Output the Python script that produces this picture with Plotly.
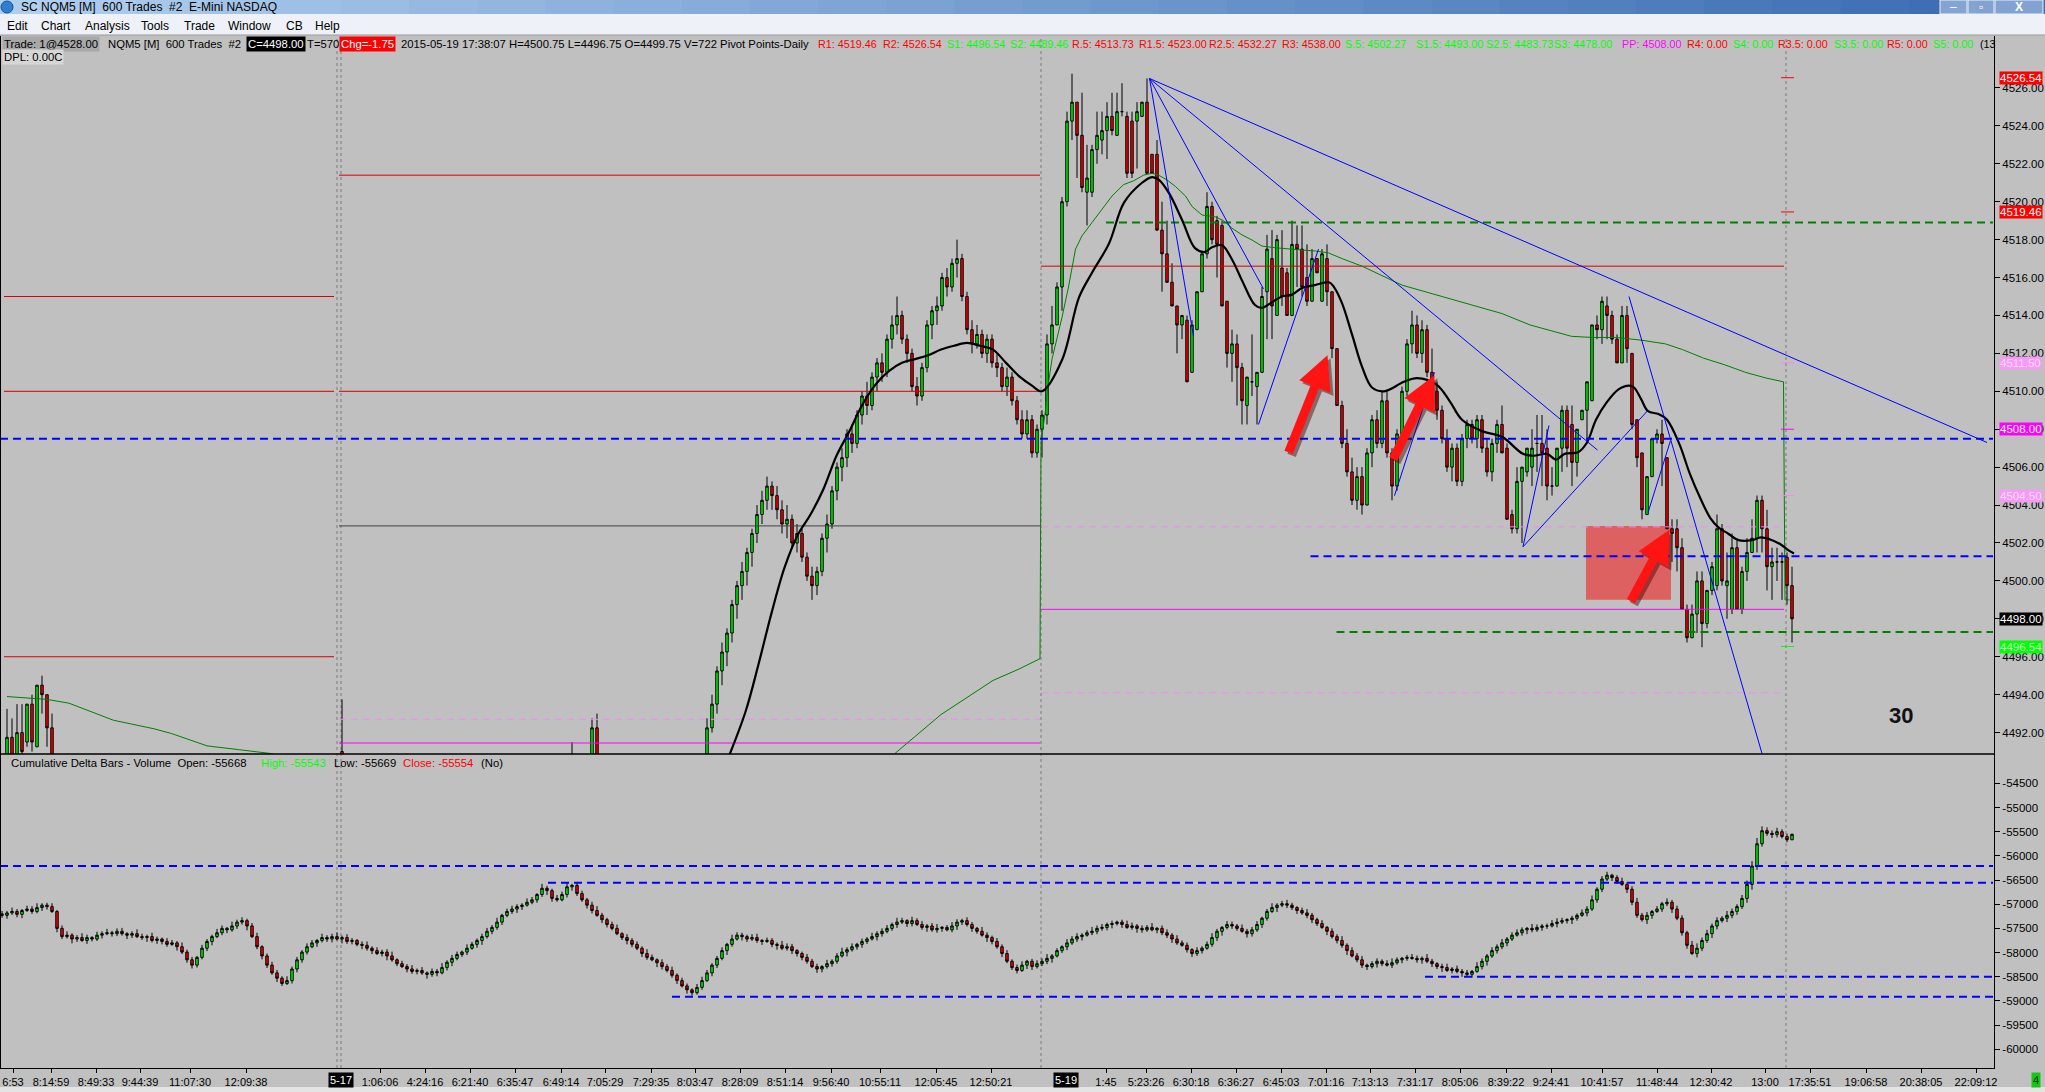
import plotly.graph_objects as go

# ---------------------------------------------------------------
# SC NQM5 [M] 600 Trades - price bars with Cumulative Delta below
# ---------------------------------------------------------------

# screen layout (pixels of the 2045 x 1092 window)
W = 2045
H = 1092
PLOT_RIGHT = 1994
PRICE_TOP = 36
PANEL_SPLIT = 754
AXIS_BOTTOM = 1068

FONT = "Liberation Sans"
INFO_SIZE = 11.3
PIVOT_SIZE = 10.8


def px_x(px):
    return px / W


def px_y(py):
    return 1 - py / H


# ---------------- price bars ----------------
# a few bars that poke into view at the left / bottom
left_bar = [1, 2, 3, 4, 5, 6, 7, 8, 9, 10, 68, 114, 118, 119]
left_open = [4490.5, 4491.75, 4490.5, 4492.0, 4491.5, 4493.5, 4491.25, 4494.5, 4494.0, 4492.25,
             4491.0, 4490.5, 4490.5, 4492.25]
left_high = [4493.25, 4492.75, 4493.5, 4493.5, 4493.5, 4494.0, 4494.5, 4495.0, 4494.0, 4493.0,
             4493.75, 4491.5, 4492.75, 4493.0]
left_low = [4490.0, 4490.0, 4490.0, 4490.75, 4491.25, 4491.0, 4491.25, 4493.0, 4491.25, 4490.0,
            4490.0, 4490.0, 4490.0, 4490.0]
left_close = [4491.75, 4490.5, 4492.0, 4491.0, 4493.5, 4491.5, 4494.5, 4494.0, 4492.25, 4490.5,
              4490.5, 4490.25, 4492.25, 4490.5]

# main run of bars, bar 141 .. 358
main_first_bar = 141
main_open = [
    4490.5, 4492.25, 4493.5, 4495.25, 4496.25, 4497.25, 4498.75, 4499.75, 4500.5, 4501.5,
    4502.5, 4503.5, 4504.25, 4505.0, 4504.5, 4503.75, 4503.0, 4503.25, 4502.0, 4502.5,
    4501.25, 4500.25, 4499.75, 4500.5, 4502.25, 4503.0, 4504.75, 4506.0, 4506.5, 4507.75,
    4507.25, 4508.75, 4509.75, 4509.25, 4510.75, 4511.5, 4511.0, 4512.75, 4513.5, 4514.0,
    4512.75, 4512.0, 4510.25, 4509.75, 4511.25, 4513.5, 4514.25, 4514.5, 4516.0, 4515.5,
    4516.75, 4517.0, 4515.0, 4513.25, 4512.5, 4513.0, 4512.0, 4512.75, 4511.5, 4511.25,
    4510.25, 4510.75, 4509.5, 4508.5, 4507.75, 4508.5, 4506.75, 4508.0, 4508.75, 4512.5,
    4513.5, 4515.5, 4520.0, 4524.25, 4525.25, 4523.5, 4520.5, 4520.5, 4522.75, 4523.25,
    4523.75, 4524.5, 4523.5, 4524.75, 4524.5, 4524.25, 4524.25, 4524.5, 4525.25, 4522.5,
    4522.5, 4518.5, 4517.25, 4515.75, 4514.5, 4513.5, 4513.75, 4511.0, 4513.25, 4515.25,
    4517.25, 4519.75, 4519.0, 4518.75, 4514.75, 4512.0, 4512.5, 4511.25, 4509.25, 4510.5,
    4510.25, 4511.0, 4515.25, 4517.0, 4514.0, 4516.5, 4516.25, 4514.0, 4517.75, 4517.5,
    4516.0, 4514.75, 4517.0, 4514.75, 4517.0, 4515.25, 4512.25, 4509.25, 4507.25, 4505.75,
    4504.25, 4505.5, 4504.0, 4506.75, 4508.5, 4507.25, 4509.5, 4506.75, 4505.0, 4507.75,
    4510.0, 4512.5, 4513.5, 4512.0, 4513.25, 4511.0, 4510.0, 4509.0, 4507.5, 4506.0,
    4507.0, 4505.25, 4507.5, 4508.25, 4507.5, 4508.5, 4507.0, 4505.75, 4507.25, 4508.25,
    4507.0, 4503.5, 4502.75, 4505.25, 4505.75, 4506.0, 4507.25, 4507.25, 4507.0, 4505.0,
    4505.0, 4507.0, 4509.0, 4508.25, 4506.25, 4508.5, 4509.0, 4509.5, 4513.5, 4513.25,
    4514.5, 4514.0, 4512.75, 4511.5, 4514.0, 4512.0, 4508.5, 4506.75, 4503.5, 4505.5,
    4507.5, 4507.75, 4506.5, 4502.75, 4502.75, 4501.75, 4498.5, 4497.0, 4498.25, 4500.0,
    4497.75, 4499.5, 4499.75, 4502.75, 4499.75, 4498.5, 4501.75, 4498.5, 4500.5, 4501.5,
    4502.25, 4504.25, 4502.75, 4500.75, 4501.0, 4501.0, 4501.25, 4499.75,
]
main_high = [
    4492.75, 4494.0, 4495.5, 4496.75, 4497.5, 4499.0, 4500.0, 4501.0, 4501.75, 4502.75,
    4504.0, 4504.75, 4505.5, 4505.25, 4505.0, 4504.25, 4504.0, 4503.5, 4503.0, 4502.75,
    4501.5, 4500.75, 4500.75, 4502.5, 4503.5, 4505.0, 4506.25, 4507.0, 4508.0, 4508.25,
    4509.0, 4510.0, 4510.5, 4511.0, 4511.75, 4512.0, 4513.0, 4514.0, 4515.0, 4514.25,
    4513.0, 4512.25, 4510.75, 4511.5, 4513.75, 4514.5, 4515.0, 4516.25, 4516.5, 4517.0,
    4518.0, 4517.25, 4515.25, 4513.75, 4513.5, 4513.25, 4513.0, 4513.0, 4512.0, 4511.5,
    4511.25, 4511.0, 4509.75, 4509.0, 4509.0, 4508.75, 4508.25, 4509.0, 4513.0, 4514.5,
    4515.75, 4520.25, 4524.75, 4526.75, 4525.25, 4525.75, 4523.0, 4523.0, 4524.75, 4524.75,
    4525.25, 4525.75, 4525.75, 4526.25, 4524.75, 4524.75, 4525.25, 4525.25, 4526.5, 4522.5,
    4523.25, 4520.0, 4519.0, 4516.75, 4514.5, 4514.0, 4514.0, 4513.75, 4515.25, 4517.25,
    4520.5, 4520.0, 4519.25, 4519.0, 4514.75, 4513.25, 4513.0, 4511.5, 4510.75, 4513.0,
    4511.0, 4515.5, 4518.25, 4518.5, 4518.25, 4518.5, 4516.5, 4519.0, 4518.75, 4518.75,
    4517.75, 4517.5, 4517.0, 4517.5, 4517.75, 4515.25, 4512.25, 4509.5, 4508.0, 4506.5,
    4506.0, 4506.0, 4507.0, 4508.75, 4509.0, 4510.0, 4510.0, 4507.0, 4508.0, 4510.25,
    4512.75, 4514.25, 4514.0, 4513.75, 4513.5, 4512.25, 4510.5, 4509.25, 4508.0, 4507.25,
    4507.25, 4507.75, 4508.5, 4508.5, 4508.75, 4508.75, 4507.5, 4507.5, 4508.5, 4509.25,
    4507.25, 4503.75, 4506.0, 4506.0, 4507.0, 4508.0, 4508.75, 4508.75, 4508.0, 4506.0,
    4507.0, 4509.25, 4509.25, 4509.25, 4508.0, 4509.0, 4510.5, 4513.5, 4514.0, 4515.0,
    4515.0, 4514.25, 4513.0, 4514.5, 4514.5, 4512.0, 4508.5, 4506.75, 4505.5, 4507.5,
    4508.0, 4508.5, 4506.5, 4503.25, 4503.25, 4502.25, 4498.75, 4498.75, 4500.5, 4500.5,
    4499.5, 4501.0, 4503.5, 4503.0, 4501.5, 4502.5, 4502.25, 4500.75, 4502.25, 4503.25,
    4504.5, 4504.5, 4503.75, 4501.75, 4501.75, 4501.5, 4501.5, 4500.75,
]
main_low = [
    4490.25, 4492.0, 4493.0, 4494.5, 4495.5, 4496.75, 4498.0, 4499.0, 4499.75, 4500.75,
    4502.0, 4503.0, 4503.75, 4503.75, 4503.25, 4502.5, 4502.25, 4501.75, 4501.5, 4501.0,
    4500.0, 4499.0, 4499.25, 4500.25, 4501.5, 4502.75, 4504.25, 4505.25, 4506.0, 4506.75,
    4507.0, 4508.25, 4508.75, 4509.0, 4510.0, 4510.5, 4510.75, 4512.25, 4513.0, 4512.5,
    4511.5, 4510.0, 4509.25, 4509.5, 4511.0, 4512.75, 4513.5, 4514.25, 4515.0, 4515.25,
    4516.0, 4514.75, 4513.0, 4512.0, 4512.25, 4511.75, 4511.5, 4511.25, 4510.75, 4510.0,
    4509.75, 4509.25, 4508.25, 4507.5, 4507.5, 4506.5, 4506.5, 4506.5, 4508.25, 4512.0,
    4513.5, 4514.25, 4519.75, 4523.25, 4521.25, 4520.5, 4518.75, 4520.25, 4522.0, 4522.5,
    4522.25, 4523.5, 4523.5, 4524.5, 4521.25, 4521.25, 4521.75, 4524.5, 4521.5, 4521.5,
    4518.5, 4515.25, 4515.75, 4514.5, 4512.0, 4512.75, 4510.5, 4511.0, 4513.25, 4515.25,
    4517.0, 4517.75, 4516.0, 4514.5, 4511.25, 4510.5, 4509.25, 4508.25, 4508.25, 4509.75,
    4508.25, 4511.0, 4512.75, 4512.75, 4514.0, 4514.5, 4514.0, 4514.0, 4515.5, 4515.0,
    4514.5, 4514.75, 4516.25, 4514.75, 4514.5, 4511.75, 4509.25, 4507.0, 4505.5, 4504.0,
    4503.75, 4503.5, 4504.0, 4506.0, 4507.0, 4507.0, 4506.5, 4504.25, 4504.75, 4507.5,
    4509.75, 4512.0, 4511.75, 4511.5, 4510.75, 4509.5, 4508.5, 4507.25, 4505.75, 4505.25,
    4505.0, 4505.0, 4507.0, 4507.25, 4507.0, 4506.75, 4505.5, 4505.25, 4506.75, 4506.75,
    4503.25, 4502.5, 4502.5, 4502.0, 4505.5, 4505.0, 4505.75, 4505.0, 4504.25, 4504.5,
    4505.0, 4505.75, 4506.0, 4505.0, 4505.5, 4508.5, 4507.25, 4509.5, 4512.75, 4512.5,
    4512.75, 4512.5, 4511.5, 4511.5, 4511.5, 4508.0, 4506.0, 4503.25, 4503.5, 4505.5,
    4507.25, 4505.0, 4502.75, 4501.0, 4500.5, 4498.5, 4496.75, 4497.0, 4497.25, 4496.5,
    4497.5, 4499.25, 4499.5, 4499.75, 4498.0, 4498.25, 4498.5, 4498.25, 4500.0, 4501.5,
    4501.5, 4501.5, 4499.5, 4499.0, 4500.0, 4499.0, 4498.75, 4496.75,
]
main_close = [
    4492.25, 4493.5, 4495.25, 4496.25, 4497.25, 4498.75, 4499.75, 4500.5, 4501.5, 4502.5,
    4503.5, 4504.25, 4505.0, 4504.5, 4503.75, 4503.0, 4503.25, 4502.0, 4502.5, 4501.25,
    4500.25, 4499.75, 4500.5, 4502.25, 4503.0, 4504.75, 4506.0, 4506.5, 4507.75, 4507.25,
    4508.75, 4509.75, 4509.25, 4510.75, 4511.5, 4511.0, 4512.75, 4513.5, 4514.0, 4512.75,
    4512.0, 4510.25, 4509.75, 4511.25, 4513.5, 4514.25, 4514.5, 4516.0, 4515.5, 4516.75,
    4517.0, 4515.0, 4513.25, 4512.5, 4513.0, 4512.0, 4512.75, 4511.5, 4511.25, 4510.25,
    4510.75, 4509.5, 4508.5, 4507.75, 4508.5, 4506.75, 4508.0, 4508.75, 4512.5, 4513.5,
    4515.5, 4520.0, 4524.25, 4525.25, 4523.5, 4520.75, 4521.25, 4522.75, 4523.5, 4523.75,
    4524.5, 4523.75, 4524.75, 4524.75, 4521.5, 4521.5, 4524.75, 4525.25, 4521.5, 4521.5,
    4518.5, 4517.25, 4515.75, 4514.5, 4513.5, 4514.0, 4510.5, 4513.5, 4515.25, 4517.25,
    4519.75, 4518.0, 4517.75, 4514.5, 4512.0, 4512.5, 4511.25, 4509.5, 4510.75, 4510.5,
    4511.0, 4515.0, 4517.5, 4514.5, 4518.0, 4515.0, 4514.0, 4517.75, 4517.5, 4515.5,
    4514.75, 4517.0, 4516.25, 4517.25, 4515.25, 4512.25, 4509.25, 4507.25, 4505.75, 4504.25,
    4505.5, 4504.0, 4506.75, 4508.5, 4507.25, 4509.5, 4506.75, 4505.0, 4507.75, 4510.0,
    4512.5, 4513.5, 4512.0, 4513.25, 4511.0, 4510.0, 4509.0, 4507.5, 4506.0, 4507.0,
    4505.25, 4507.5, 4508.25, 4507.5, 4508.5, 4507.0, 4505.75, 4507.25, 4508.25, 4506.75,
    4503.25, 4502.75, 4505.25, 4506.0, 4507.0, 4507.0, 4507.25, 4506.75, 4505.0, 4505.0,
    4507.0, 4509.0, 4507.0, 4506.25, 4508.0, 4509.0, 4510.5, 4513.5, 4513.25, 4514.75,
    4514.0, 4512.75, 4511.5, 4514.0, 4512.25, 4508.25, 4506.5, 4503.75, 4505.5, 4507.5,
    4507.75, 4507.25, 4502.75, 4502.5, 4501.75, 4498.5, 4497.0, 4498.25, 4500.0, 4497.75,
    4499.5, 4500.75, 4502.75, 4500.0, 4500.0, 4501.75, 4498.5, 4500.5, 4501.5, 4502.25,
    4504.25, 4502.75, 4500.75, 4501.0, 4501.0, 4501.0, 4499.75, 4498.0,
]

# black moving average (bar, value)
ma_bar = [145, 148.7, 151.3, 153.9, 156.5, 159.1, 161.7, 164.3, 166.9, 169.5,
          172.1, 174.7, 177.3, 180, 182.6, 185.2, 187.8, 190.4, 193, 195.6,
          198.2, 200.8, 203.4, 206, 208, 212, 215.4, 218, 221.4, 224.4,
          228, 230, 231.4, 233.4, 236, 238.6, 240.6, 242, 244, 246,
          248, 250.6, 252, 254, 256, 258, 260, 262.6, 265.4, 266.4,
          268, 270, 272, 274, 276.4, 280.4, 283, 286.9, 289.5, 292,
          296, 300, 304.2, 306.3, 309, 310.8, 312.5, 315.3, 317, 318.8,
          320.9, 323.3, 325.4, 326.4, 327.8, 329.2, 331.3, 333, 335.5, 337.5,
          339.6, 341.7, 343.4, 345.2, 347.3, 350, 351.8, 353.5, 355.6, 357.4, 358.4]
ma_val = [4490.5, 4493.1, 4495.6, 4498.3, 4500.7, 4502.4, 4503.5, 4504.85, 4506.6, 4507.9,
          4509.3, 4510.35, 4511.05, 4511.5, 4511.7, 4511.9, 4512.2, 4512.4, 4512.55, 4512.4,
          4512.2, 4511.5, 4510.8, 4510.3, 4510.0, 4511.65, 4514.95, 4516.25, 4517.8, 4519.95,
          4521.0, 4521.3, 4521.15, 4520.45, 4519.05, 4517.55, 4517.35, 4517.6, 4517.7, 4516.95,
          4515.85, 4514.55, 4514.4, 4514.7, 4515.0, 4515.1, 4515.45, 4515.6, 4515.75, 4515.5,
          4514.65, 4513.0, 4511.3, 4510.2, 4510.0, 4510.5, 4510.7, 4510.35, 4509.5, 4508.5,
          4507.9, 4507.6, 4506.7, 4506.6, 4506.7, 4506.4, 4506.7, 4506.8, 4507.3, 4508.5,
          4509.4, 4510.1, 4510.3, 4510.2, 4509.6, 4508.95, 4508.8, 4508.5, 4507.2, 4505.7,
          4504.4, 4503.3, 4502.8, 4502.5, 4502.15, 4502.15, 4502.3, 4502.2, 4501.95, 4501.6, 4501.45]

# thin green session average, two sessions
vw1_bar = [1, 9, 13.4, 17.8, 22.3, 25.9, 30.4, 33.9, 37.5, 41, 47.3, 53.6, 57]
vw1_val = [4493.9, 4493.75, 4493.55, 4493.1, 4492.65, 4492.45, 4492.2, 4491.95, 4491.6, 4491.3,
           4491.1, 4490.9, 4490.7]
vw2_bar = [178.6, 182.6, 187.8, 193, 198.2, 203.4, 207.6,
           207.8, 208.7, 209, 210, 212, 213.3, 214.7, 216, 218, 220,
           222, 224.3, 226.3, 228.3, 230, 231.3, 233, 234.7, 236.7, 238,
           240, 242.7, 244.3, 246, 248, 250, 252, 254.7, 257.3, 260,
           262.7, 265.3, 268, 272, 276, 280, 284, 288, 292, 296,
           300, 305.6, 311.1, 313.9, 318.1, 322.9, 327.8, 332.7, 336.1, 340.3,
           344.5, 348.7, 352.8, 356.3, 356.6, 357.5]
vw2_val = [4490.9, 4491.8, 4492.95, 4493.85, 4494.75, 4495.35, 4495.9,
           4507.3, 4509.0, 4509.9, 4511.7, 4513.9, 4515.5, 4517.5, 4518.2, 4518.9, 4519.6,
           4520.3, 4520.9, 4521.1, 4521.4, 4521.5, 4521.4, 4521.15, 4520.8, 4520.3, 4519.75,
           4519.3, 4519.2, 4519.0, 4518.6, 4518.25, 4517.98, 4517.66, 4517.57, 4517.5, 4517.45,
           4517.4, 4517.3, 4517.0, 4516.6, 4516.1, 4515.6, 4515.3, 4515.0, 4514.7, 4514.4,
           4514.1, 4513.5, 4513.1, 4512.9, 4512.84, 4512.84, 4512.7, 4512.5, 4512.2, 4511.75,
           4511.4, 4511.0, 4510.7, 4510.5, 4499.0, 4499.0]

# pivot lines of earlier sessions (price, first bar, last bar)
red_lvl = [4515.0, 4510.0, 4496.0, 4521.4, 4510.0, 4516.6]
red_from = [0.4, 0.4, 0.4, 67.4, 67.4, 207.8]
red_to = [66.4, 66.4, 66.4, 207.6, 207.6, 356.4]
dark_lvl = [4502.9]
dark_from = [67.4]
dark_to = [207.6]
magenta_lvl = [4491.45, 4498.5]
magenta_from = [67.4, 207.8]
magenta_to = [207.6, 356.4]
violet_lvl = [4492.7, 4502.85, 4494.1]
violet_from = [67.4, 207.8, 207.8]
violet_to = [207.6, 356.4, 356.4]

# hand drawn dashed levels
green_dash_lvl = [4518.9, 4497.3]
green_dash_from = [220.8, 266.9]
blue_dash_lvl = [4507.5, 4501.3]
blue_dash_from = [-0.4, 261.7]
dash_to = 398.2

# today's pivot ticks at the last bar
pivot_mark = [4526.54, 4519.46, 4511.5, 4508.0, 4504.5, 4496.54]

# blue trend / fan lines (start bar, start price, end bar, end price)
fan_x0 = [229.5, 229.5, 229.5, 229.5, 251.3, 278.5, 304.2, 304.2, 329.2, 325.4]
fan_y0 = [4526.5, 4526.5, 4526.5, 4526.5, 4508.25, 4504.5, 4501.8, 4501.8, 4503.6, 4515.0]
fan_x1 = [238.3, 252.3, 319.1, 397.0, 263.3, 286.5, 309.4, 329.2, 333.7, 352.0]
fan_y1 = [4512.9, 4515.4, 4506.9, 4507.3, 4517.5, 4511.0, 4508.2, 4509.0, 4507.4, 4490.9]

# red arrows (tail -> tip)
arrow_tail_bar = [257.2, 278.1, 325.6]
arrow_tail_price = [4506.7, 4506.35, 4498.85]
arrow_tip_bar = [265.1, 286.5, 333.5]
arrow_tip_price = [4511.9, 4510.85, 4502.7]

# red zone box
zone_bar = [316.8, 333.8]
zone_price = [4499.0, 4502.9]

# price scale boxes on the right
box_price = [4526.54, 4519.46, 4511.5, 4508.0, 4504.5, 4498.0, 4496.54]

# session breaks and current bar (dotted verticals)
session_break_bar = [67.0, 67.8, 207.8]
current_bar_line = 356.8

# ---------------- cumulative delta ----------------
delta_first_open = -57200
delta_close = [
    -57230, -57180, -57150, -57210, -57130, -57100, -57150, -57070, -57020, -57050,
    -57150, -57500, -57670, -57640, -57720, -57690, -57750, -57690, -57720, -57640,
    -57610, -57590, -57610, -57560, -57610, -57640, -57610, -57670, -57690, -57670,
    -57750, -57720, -57770, -57830, -57800, -57880, -57990, -58150, -58260, -58100,
    -57910, -57770, -57670, -57590, -57500, -57530, -57450, -57370, -57340, -57450,
    -57670, -57880, -58070, -58260, -58420, -58530, -58640, -58580, -58340, -58150,
    -57990, -57880, -57800, -57750, -57690, -57720, -57670, -57720, -57690, -57770,
    -57750, -57830, -57850, -57910, -57960, -58020, -57990, -58070, -58150, -58230,
    -58290, -58340, -58390, -58370, -58420, -58450, -58390, -58420, -58310, -58200,
    -58120, -58040, -57990, -57910, -57830, -57750, -57670, -57560, -57480, -57370,
    -57230, -57150, -57100, -57050, -57020, -56960, -56910, -56800, -56670, -56720,
    -56880, -56910, -56800, -56640, -56610, -56780, -56910, -57020, -57130, -57230,
    -57320, -57420, -57500, -57610, -57690, -57750, -57830, -57910, -58020, -58100,
    -58150, -58210, -58290, -58370, -58470, -58580, -58690, -58770, -58830, -58720,
    -58580, -58420, -58260, -58120, -57960, -57830, -57720, -57640, -57670, -57720,
    -57690, -57750, -57770, -57750, -57830, -57850, -57910, -57880, -57960, -58020,
    -58100, -58180, -58290, -58340, -58290, -58230, -58180, -58070, -57990, -57940,
    -57880, -57830, -57770, -57720, -57670, -57610, -57560, -57500, -57420, -57370,
    -57340, -57400, -57340, -57420, -57480, -57450, -57530, -57500, -57480, -57530,
    -57450, -57370, -57340, -57420, -57500, -57560, -57640, -57690, -57770, -57880,
    -58020, -58180, -58310, -58370, -58260, -58180, -58290, -58230, -58180, -58120,
    -58070, -57960, -57880, -57800, -57720, -57670, -57640, -57590, -57560, -57500,
    -57480, -57420, -57400, -57370, -57420, -57480, -57450, -57500, -57530, -57480,
    -57530, -57500, -57590, -57640, -57720, -57800, -57850, -57940, -58020, -57960,
    -57910, -57830, -57690, -57560, -57480, -57420, -57450, -57500, -57560, -57610,
    -57530, -57420, -57290, -57150, -57070, -57020, -56990, -57020, -57070, -57130,
    -57180, -57230, -57320, -57400, -57480, -57560, -57670, -57750, -57850, -57960,
    -58070, -58150, -58260, -58290, -58230, -58180, -58230, -58260, -58210, -58150,
    -58120, -58100, -58120, -58150, -58120, -58180, -58230, -58290, -58310, -58370,
    -58340, -58390, -58420, -58450, -58390, -58290, -58180, -58070, -57960, -57880,
    -57800, -57720, -57640, -57590, -57530, -57500, -57530, -57480, -57450, -57450,
    -57400, -57370, -57340, -57320, -57290, -57230, -57180, -57100, -56910, -56690,
    -56480, -56400, -56450, -56530, -56590, -56690, -56960, -57230, -57320, -57230,
    -57150, -57100, -56990, -56960, -57100, -57290, -57590, -57850, -58020, -57910,
    -57750, -57610, -57450, -57340, -57290, -57230, -57150, -57050, -56880, -56590,
    -56210, -55750, -55480, -55535, -55560, -55500, -55600, -55668, -55554,
]
# wick lengths above / below the body of each delta bar
delta_wick_up = [
    60, 40, 80, 50, 30, 70, 60, 90, 40, 50, 70, 30, 60, 80, 40, 50, 90, 60, 30, 70,
    50, 80, 40, 60, 70, 30, 50, 90, 60, 40, 80, 50, 30, 70, 60, 40, 90, 50, 60, 30,
    70, 50, 40, 80, 60, 30, 90, 50, 70, 40, 60, 80, 30, 50, 70, 60, 40, 90, 50, 60,
    40, 70, 60, 30, 80, 50, 60, 90, 40, 70, 50, 30, 60, 80, 40, 70, 50, 60, 90, 30,
    60, 50, 80, 40, 70, 30, 60, 50, 90, 40, 70, 60, 30, 80, 50, 40, 60, 70, 50, 90,
    30, 60, 70, 50, 40, 80, 60, 30, 90, 50, 40, 70, 60, 80, 30, 50, 60, 40, 70, 90,
    50, 40, 60, 80, 30, 70, 50, 60, 40, 90, 60, 30, 70, 50, 80, 40, 60, 50, 30, 70,
    80, 60, 40, 50, 70, 30, 90, 60, 50, 40, 70, 80, 30, 60, 50, 40, 90, 70, 60, 30,
    40, 70, 50, 60, 30, 80, 40, 60, 90, 50, 70, 30, 60, 40, 80, 50, 60, 70, 40, 90,
    60, 30, 80, 50, 70, 40, 60, 90, 30, 50, 80, 60, 40, 70, 50, 30, 90, 60, 40, 70,
    50, 70, 40, 60, 80, 30, 50, 70, 60, 90, 40, 50, 30, 80, 60, 70, 40, 50, 90, 60,
    70, 40, 60, 30, 50, 80, 70, 40, 60, 50, 90, 30, 60, 70, 40, 80, 50, 60, 30, 70,
    40, 60, 90, 50, 30, 70, 60, 40, 80, 50, 60, 70, 30, 50, 90, 40, 60, 80, 50, 30,
    60, 80, 50, 40, 70, 30, 60, 50, 90, 40, 70, 60, 80, 30, 50, 60, 40, 70, 90, 50,
    30, 50, 70, 60, 40, 90, 50, 30, 60, 80, 40, 70, 50, 60, 30, 90, 60, 40, 70, 50,
    80, 40, 60, 70, 50, 30, 90, 60, 40, 50, 70, 80, 60, 30, 50, 40, 70, 60, 90, 40,
    60, 70, 30, 50, 80, 40, 60, 90, 50, 70, 30, 60, 40, 80, 50, 70, 60, 40, 90, 100,
    60, 80, 50, 70, 40, 90, 60, 50, 70, 80, 100, 120, 90, 70, 60, 80, 50, 60, 11,
]
delta_wick_dn = [
    50, 70, 40, 60, 80, 30, 50, 40, 70, 60, 30, 80, 50, 40, 90, 60, 30, 70, 50, 40,
    70, 30, 60, 50, 40, 80, 60, 30, 50, 90, 40, 70, 60, 50, 30, 80, 40, 60, 70, 50,
    40, 60, 80, 30, 50, 70, 40, 60, 50, 90, 30, 50, 70, 60, 40, 80, 50, 30, 60, 70,
    60, 50, 30, 80, 40, 60, 70, 30, 90, 50, 60, 40, 80, 50, 70, 30, 60, 90, 40, 50,
    30, 70, 50, 60, 40, 90, 50, 70, 30, 60, 80, 40, 50, 60, 30, 70, 90, 40, 60, 50,
    60, 40, 50, 80, 70, 30, 40, 60, 50, 90, 70, 40, 30, 60, 80, 50, 40, 70, 60, 30,
    70, 60, 40, 30, 50, 80, 60, 40, 70, 50, 30, 90, 60, 40, 50, 70, 30, 80, 60, 40,
    50, 30, 70, 60, 40, 90, 50, 30, 80, 60, 40, 50, 70, 30, 60, 90, 40, 50, 70, 60,
    60, 50, 30, 80, 70, 40, 60, 50, 30, 90, 40, 60, 70, 50, 30, 80, 60, 40, 50, 70,
    40, 70, 60, 30, 50, 90, 40, 60, 70, 30, 50, 80, 60, 40, 70, 50, 30, 90, 60, 40,
    70, 40, 50, 60, 30, 80, 70, 40, 50, 60, 90, 30, 50, 70, 40, 60, 80, 30, 50, 60,
    50, 60, 80, 40, 70, 30, 50, 90, 60, 40, 30, 70, 50, 60, 80, 40, 30, 60, 70, 50,
    60, 30, 50, 70, 90, 40, 60, 50, 30, 80, 60, 40, 70, 50, 30, 90, 40, 60, 50, 70,
    40, 60, 70, 50, 30, 80, 40, 60, 50, 90, 30, 50, 60, 70, 40, 80, 50, 30, 60, 40,
    70, 50, 30, 60, 80, 40, 70, 50, 90, 30, 60, 40, 80, 50, 70, 30, 60, 90, 40, 60,
    50, 70, 40, 30, 60, 90, 50, 40, 70, 60, 30, 80, 40, 60, 90, 50, 30, 70, 40, 60,
    60, 40, 70, 50, 30, 80, 60, 50, 40, 90, 70, 30, 60, 50, 80, 40, 60, 70, 30, 80,
    60, 50, 90, 70, 40, 80, 60, 70, 50, 90, 110, 80, 60, 50, 70, 60, 40, 50, 1,
]
delta_dash_lvl = [-56210, -56556, -58500, -58913]
delta_dash_from = [-0.4, 109.2, 284.6, 134.0]

# time scale labels
time_tick_bar = [2.2, 9.8, 18.8, 27.6, 37.6, 48.8, 75.6, 84.6, 93.6, 102.6,
                 111.8, 120.6, 129.8, 138.6, 147.6, 156.6, 165.8, 175.6, 186.8, 197.8,
                 220.8, 228.8, 237.8, 246.8, 255.8, 264.8, 273.6, 282.6, 291.6, 300.8,
                 309.8, 320, 331, 341.8, 352.6, 361.6, 372.8, 383.8, 394.8]
time_tick_text = ["6:53", "8:14:59", "8:49:33", "9:44:39", "11:07:30", "12:09:38", "1:06:06",
                  "4:24:16", "6:21:40", "6:35:47", "6:49:14", "7:05:29", "7:29:35", "8:03:47",
                  "8:28:09", "8:51:14", "9:56:40", "10:55:11", "12:05:45", "12:50:21", "1:45",
                  "5:23:26", "6:30:18", "6:36:27", "6:45:03", "7:01:16", "7:13:13", "7:31:17",
                  "8:05:06", "8:39:22", "9:24:41", "10:41:57", "11:48:44", "12:30:42", "13:00",
                  "17:35:51", "19:06:58", "20:38:05", "22:09:12"]
date_tick_bar = [67.8, 212.8]
date_tick_text = ["5-17", "5-19"]

price_ticks = [4492 + 2 * i for i in range(18)]
delta_ticks = [-54500 - 500 * i for i in range(12)]

# ---------------- build figure ----------------
p_bar = left_bar + list(range(main_first_bar, main_first_bar + len(main_close)))
p_open = left_open + main_open
p_high = left_high + main_high
p_low = left_low + main_low
p_close = left_close + main_close

d_bar = list(range(len(delta_close)))
d_open = [delta_first_open] + delta_close[:-1]
d_high = [max(o, c) + w for o, c, w in zip(d_open, delta_close, delta_wick_up)]
d_low = [min(o, c) - w for o, c, w in zip(d_open, delta_close, delta_wick_dn)]


def level_xy(levels, starts, ends):
    xs, ys = [], []
    for lv, a, b in zip(levels, starts, ends):
        xs += [a, b, None]
        ys += [lv, lv, None]
    return xs, ys


def seg_xy(x0, y0, x1, y1):
    xs, ys = [], []
    for a, b, c, d in zip(x0, y0, x1, y1):
        xs += [a, c, None]
        ys += [b, d, None]
    return xs, ys


fig = go.Figure()


def add_line(xs, ys, color, width, dash="solid", yaxis="y", shape="linear"):
    fig.add_trace(go.Scatter(
        x=xs, y=ys, mode="lines", xaxis="x", yaxis=yaxis,
        line=dict(color=color, width=width, dash=dash, shape=shape),
        hoverinfo="skip", showlegend=False, connectgaps=False
    ))


# thin pivot lines of old sessions
xs, ys = level_xy(red_lvl, red_from, red_to)
add_line(xs, ys, "#d80000", 1)
xs, ys = level_xy(dark_lvl, dark_from, dark_to)
add_line(xs, ys, "#404040", 1)
xs, ys = level_xy(magenta_lvl, magenta_from, magenta_to)
add_line(xs, ys, "#ff00ff", 1)
xs, ys = level_xy(violet_lvl, violet_from, violet_to)
add_line(xs, ys, "#f08cf0", 1, dash="7px,5px")

# green session average
add_line(vw1_bar + [None] + vw2_bar, vw1_val + [None] + vw2_val, "#008000", 1)

# price candles
fig.add_trace(go.Candlestick(
    x=p_bar, open=p_open, high=p_high, low=p_low, close=p_close,
    xaxis="x", yaxis="y", whiskerwidth=0,
    increasing=dict(line=dict(color="black", width=1), fillcolor="#00ff00"),
    decreasing=dict(line=dict(color="black", width=1), fillcolor="#ff0000"),
    hoverinfo="skip", showlegend=False
))

# black average
add_line(ma_bar, ma_val, "black", 2.2, shape="spline")

# dashed hand drawn levels
xs, ys = level_xy(green_dash_lvl, green_dash_from, [dash_to] * len(green_dash_lvl))
add_line(xs, ys, "#008000", 2, dash="8px,5px")
xs, ys = level_xy(blue_dash_lvl, blue_dash_from, [dash_to] * len(blue_dash_lvl))
add_line(xs, ys, "#0000ff", 2, dash="8px,5px")

# blue fan / trend lines
xs, ys = seg_xy(fan_x0, fan_y0, fan_x1, fan_y1)
add_line(xs, ys, "#0000ff", 1)

# short pivot ticks at the last bar
mark_colors = ["#ff0000", "#ff0000", "#ff80ff", "#ff00ff", "#ff80ff", "#00ff00"]
for lv, col in zip(pivot_mark, mark_colors):
    add_line([355.8, 358.4], [lv, lv], col, 1)

# cumulative delta candles
fig.add_trace(go.Candlestick(
    x=d_bar, open=d_open, high=d_high, low=d_low, close=delta_close,
    xaxis="x", yaxis="y2", whiskerwidth=0,
    increasing=dict(line=dict(color="black", width=1), fillcolor="#00ff00"),
    decreasing=dict(line=dict(color="black", width=1), fillcolor="#ff0000"),
    hoverinfo="skip", showlegend=False
))
xs, ys = level_xy(delta_dash_lvl, delta_dash_from, [dash_to] * len(delta_dash_lvl))
add_line(xs, ys, "#0000ff", 2, dash="8px,5px", yaxis="y2")

# ---------------- shapes ----------------
shapes = []

# window title bar (gradient made of strips)
n_strip = 30
c0 = (176, 206, 238)
c1 = (58, 108, 178)
for i in range(n_strip):
    t = i / (n_strip - 1)
    col = "rgb(%d,%d,%d)" % tuple(int(a + (b - a) * t) for a, b in zip(c0, c1))
    shapes.append(dict(type="rect", xref="paper", yref="paper",
                       x0=px_x(W * i / n_strip), x1=px_x(W * (i + 1) / n_strip + 1),
                       y0=px_y(14), y1=px_y(0), fillcolor=col, line=dict(width=0), layer="above"))
# window buttons
for bx0, bx1 in [(1940, 1967), (1968, 1994), (1995, 2043)]:
    shapes.append(dict(type="rect", xref="paper", yref="paper",
                       x0=px_x(bx0), x1=px_x(bx1), y0=px_y(14), y1=px_y(0),
                       fillcolor="rgba(190,210,235,0.55)", line=dict(color="#e8f0fa", width=1),
                       layer="above"))
# app icon
shapes.append(dict(type="circle", xref="paper", yref="paper",
                   x0=px_x(1), x1=px_x(13), y0=px_y(13), y1=px_y(1),
                   fillcolor="#2f7fd0", line=dict(color="#1d4f90", width=1), layer="above"))

# menu bar
shapes.append(dict(type="rect", xref="paper", yref="paper", x0=0, x1=1,
                   y0=px_y(35), y1=px_y(14), fillcolor="#eef1f7",
                   line=dict(width=0), layer="above"))
shapes.append(dict(type="line", xref="paper", yref="paper", x0=0, x1=1,
                   y0=px_y(35), y1=px_y(35), line=dict(color="#9a9a9a", width=1), layer="above"))

# chart frame lines
shapes.append(dict(type="line", xref="paper", yref="paper", x0=px_x(0.5), x1=px_x(0.5),
                   y0=px_y(AXIS_BOTTOM), y1=px_y(PRICE_TOP), line=dict(color="black", width=1)))
shapes.append(dict(type="line", xref="paper", yref="paper", x0=0, x1=px_x(PLOT_RIGHT),
                   y0=px_y(PANEL_SPLIT), y1=px_y(PANEL_SPLIT), line=dict(color="black", width=1.5),
                   layer="above"))

# dotted session breaks and current bar
for b in session_break_bar + [current_bar_line]:
    shapes.append(dict(type="line", xref="x", yref="paper", x0=b, x1=b,
                       y0=px_y(AXIS_BOTTOM), y1=px_y(PRICE_TOP),
                       line=dict(color="#7a7a7a", width=1, dash="dot"), layer="below"))

# red zone
shapes.append(dict(type="rect", xref="x", yref="y", x0=zone_bar[0], x1=zone_bar[1],
                   y0=zone_price[0], y1=zone_price[1], fillcolor="#de6161",
                   line=dict(width=0), layer="below"))

# light strip at the very bottom
shapes.append(dict(type="rect", xref="paper", yref="paper", x0=0, x1=1,
                   y0=0, y1=px_y(1087), fillcolor="#e4e4e4", line=dict(width=0)))

# ---------------- texts ----------------
ann = []


def text_at(x, y, s, color="black", size=12, bg=None, family=FONT, anchor="left", bold=False):
    s = s.replace("  ", "\u00a0 ")
    if bold:
        s = "<b>" + s + "</b>"
    d = dict(x=px_x(x), y=px_y(y), xref="paper", yref="paper", text=s, showarrow=False,
             xanchor=anchor, yanchor="middle", font=dict(family=family, size=size, color=color),
             borderpad=1)
    if bg:
        d["bgcolor"] = bg
    ann.append(d)


# title and menu
text_at(19, 7, "SC NQM5 [M]  600 Trades  #2  E-Mini NASDAQ", size=12)
text_at(1953, 7, "\u2013", color="white", size=12, anchor="center")
text_at(1981, 7, "\u25ab", color="white", size=12, anchor="center")
text_at(2019, 7, "X", color="white", size=12, anchor="center", bold=True)
menu_items = [(5, "Edit"), (39, "Chart"), (83, "Analysis"), (139, "Tools"),
              (182, "Trade"), (226, "Window"), (284, "CB"), (313, "Help")]
for mx, mt in menu_items:
    text_at(mx, 26, mt, size=12)

# study / pivot info line
RED, GRN, MAG = "#ff0000", "#00ff00", "#ff00ff"
info_items = [
    (2, "Trade: 1@4528.00", "black", "#a8a8a8"),
    (106, "NQM5 [M]  600 Trades  #2", "black", None),
    (246, "C=4498.00", "white", "black"),
    (305, "T=570", "black", None),
    (339, "Chg=-1.75", "white", "#ff0000"),
    (399, "2015-05-19 17:38:07 H=4500.75 L=4496.75 O=4499.75 V=722 Pivot Points-Daily", "black", None),
]
pivot_items = [
    (816, "R1: 4519.46", RED), (881, "R2: 4526.54", RED),
    (945, "S1: 4496.54", GRN), (1008, "S2: 4489.46", GRN),
    (1070, "R.5: 4513.73", RED), (1137, "R1.5: 4523.00", RED),
    (1207, "R2.5: 4532.27", RED), (1280, "R3: 4538.00", RED),
    (1343, "S.5: 4502.27", GRN), (1414, "S1.5: 4493.00", GRN),
    (1484, "S2.5: 4483.73", GRN), (1552, "S3: 4478.00", GRN),
    (1620, "PP: 4508.00", MAG), (1685, "R4: 0.00", RED),
    (1731, "S4: 0.00", GRN), (1776, "R3.5: 0.00", RED),
    (1832, "S3.5: 0.00", GRN), (1885, "R5: 0.00", RED),
    (1931, "S5: 0.00", GRN), (1978, "(13", "black"),
]
for ix, it, ic, ib in info_items:
    text_at(ix, 44, it, color=ic, size=INFO_SIZE, bg=ib)
for ix, it, ic in pivot_items:
    text_at(ix, 44, it, color=ic, size=PIVOT_SIZE)
text_at(2, 57, "DPL: 0.00C", size=INFO_SIZE, bg="#d6d6d6")

# delta study header
text_at(9, 763, "Cumulative Delta Bars - Volume  Open: -55668", size=INFO_SIZE)
text_at(259, 763, "High: -55543", color=GRN, size=INFO_SIZE)
text_at(332, 763, "Low: -55669", size=INFO_SIZE)
text_at(401, 763, "Close: -55554", color=RED, size=INFO_SIZE)
text_at(479, 763, "(No)", size=INFO_SIZE)

# big "30"
ann.append(dict(x=379.8, y=4492.9, xref="x", yref="y", text="<b>30</b>", showarrow=False,
                font=dict(family=FONT, size=22, color="#111111")))

# date labels on the time scale
for b, t in zip(date_tick_bar, date_tick_text):
    ann.append(dict(x=b, y=px_y(1080), xref="x", yref="paper", text=t, showarrow=False,
                    font=dict(family=FONT, size=11, color="white"), bgcolor="black",
                    borderpad=1, yanchor="middle"))
text_at(2036, 1080, "4", color="#003300", size=11, bg="#16c816", anchor="center")

# colored boxes on the price scale
box_style = [("#ff0000", "white"), ("#ff0000", "white"), ("#f59af5", "#ffd8ff"),
             ("#ff00ff", "white"), ("#f59af5", "#ffd8ff"), ("black", "white"),
             ("#00ff00", "#c8ffc8")]
for bp, (bg, fc) in zip(box_price, box_style):
    ann.append(dict(x=px_x(1999), y=bp, xref="paper", yref="y", text="%.2f" % bp,
                    showarrow=False, xanchor="left", yanchor="middle", bgcolor=bg,
                    font=dict(family=FONT, size=11.5, color=fc), borderpad=0))

# red arrows with a soft shadow
for tb, tp, hb, hp in zip(arrow_tail_bar, arrow_tail_price, arrow_tip_bar, arrow_tip_price):
    for col, sx, sy in [("rgba(60,0,0,0.45)", 3, -3), ("#ff1414", 0, 0)]:
        ann.append(dict(x=hb, y=hp, ax=tb, ay=tp, xref="x", yref="y", axref="x", ayref="y",
                        text="", showarrow=True, arrowhead=2, arrowsize=0.75, arrowwidth=9,
                        arrowcolor=col, xshift=sx, yshift=sy, standoff=0))

# ---------------- layout ----------------
axis_common = dict(showgrid=False, zeroline=False, ticks="outside", ticklen=5,
                   tickcolor="black", showline=True, linecolor="black", linewidth=1,
                   tickfont=dict(family=FONT, size=11.5, color="black"), fixedrange=True,
                   automargin=False)

fig.update_layout(
    width=W, height=H,
    margin=dict(l=0, r=0, t=0, b=0, pad=0),
    paper_bgcolor="#c0c0c0", plot_bgcolor="#c0c0c0",
    showlegend=False, hovermode=False,
    font=dict(family=FONT, size=12, color="black"),
    xaxis=dict(domain=[0, px_x(PLOT_RIGHT)], range=[-0.4, 398.4], anchor="y2",
               tickvals=time_tick_bar, ticktext=time_tick_text, tickangle=0,
               rangeslider=dict(visible=False),
               **dict(axis_common, ticklen=4, tickfont=dict(family=FONT, size=11, color="black"))),
    yaxis=dict(domain=[px_y(PANEL_SPLIT), px_y(PRICE_TOP)], range=[4490.87, 4528.74],
               side="right", anchor="x", tickvals=price_ticks,
               ticktext=["%.2f" % v for v in price_ticks], **axis_common),
    yaxis2=dict(domain=[px_y(AXIS_BOTTOM), px_y(PANEL_SPLIT)], range=[-60387, -53894],
                side="right", anchor="x", tickvals=delta_ticks,
                ticktext=[str(v) for v in delta_ticks], **axis_common),
    shapes=shapes,
    annotations=ann,
)

# page without the default body margin, so the figure fills the window exactly
fig.write_html("out.html", config={"displayModeBar": False},
               post_script="document.body.style.margin='0px';"
                           "document.body.style.overflow='hidden';")
